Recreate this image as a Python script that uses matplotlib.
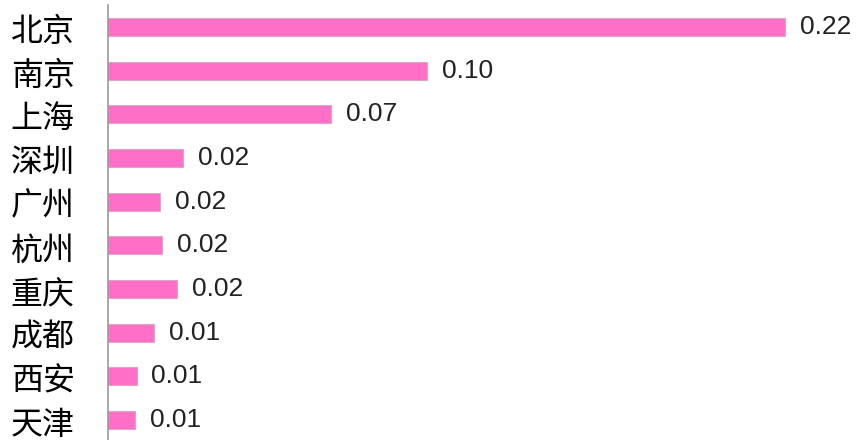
import matplotlib.pyplot as plt
import matplotlib.transforms as mtransforms

plt.rcParams['font.family'] = ['Noto Sans CJK SC', 'DejaVu Sans']

# city names and values, top to bottom
cities = ["北京", "南京", "上海", "深圳", "广州", "杭州", "重庆", "成都", "西安", "天津"]
values = [0.22, 0.1038, 0.0725, 0.0244, 0.0169, 0.0175, 0.0224, 0.0149, 0.0093, 0.0087]

fig = plt.figure(figsize=(8.57, 4.4), dpi=100)
ax = fig.add_axes([108 / 857, -2 / 440, 749 / 857, 437 / 440])

pos = list(range(len(cities)))
ax.barh(pos, values, height=0.41, color="#ff6ec7", edgecolor="#dba6c6", linewidth=0.8)

for y, v in zip(pos, values):
    ax.text(v + 0.0048, y, f"{v:.2f}", va="center", ha="left",
            fontsize=19, color="#222222", family=["Liberation Sans", "DejaVu Sans"])

ax.set_yticks(pos)
ax.set_yticklabels(cities, fontsize=23)
ax.set_ylim(9.5, -0.5)
ax.set_xlim(0, 0.2434)
ax.set_xticks([])
ax.tick_params(axis="y", length=0, pad=24)

# nudge the city names a little lower, as in the original
shift = mtransforms.ScaledTranslation(0, -1.5 / 100, fig.dpi_scale_trans)
for lbl in ax.get_yticklabels():
    lbl.set_transform(lbl.get_transform() + shift)

for side in ["top", "right", "bottom"]:
    ax.spines[side].set_visible(False)
ax.spines["left"].set_color("#999999")
ax.spines["left"].set_linewidth(1.2)

fig.savefig("out.png", dpi=100)
